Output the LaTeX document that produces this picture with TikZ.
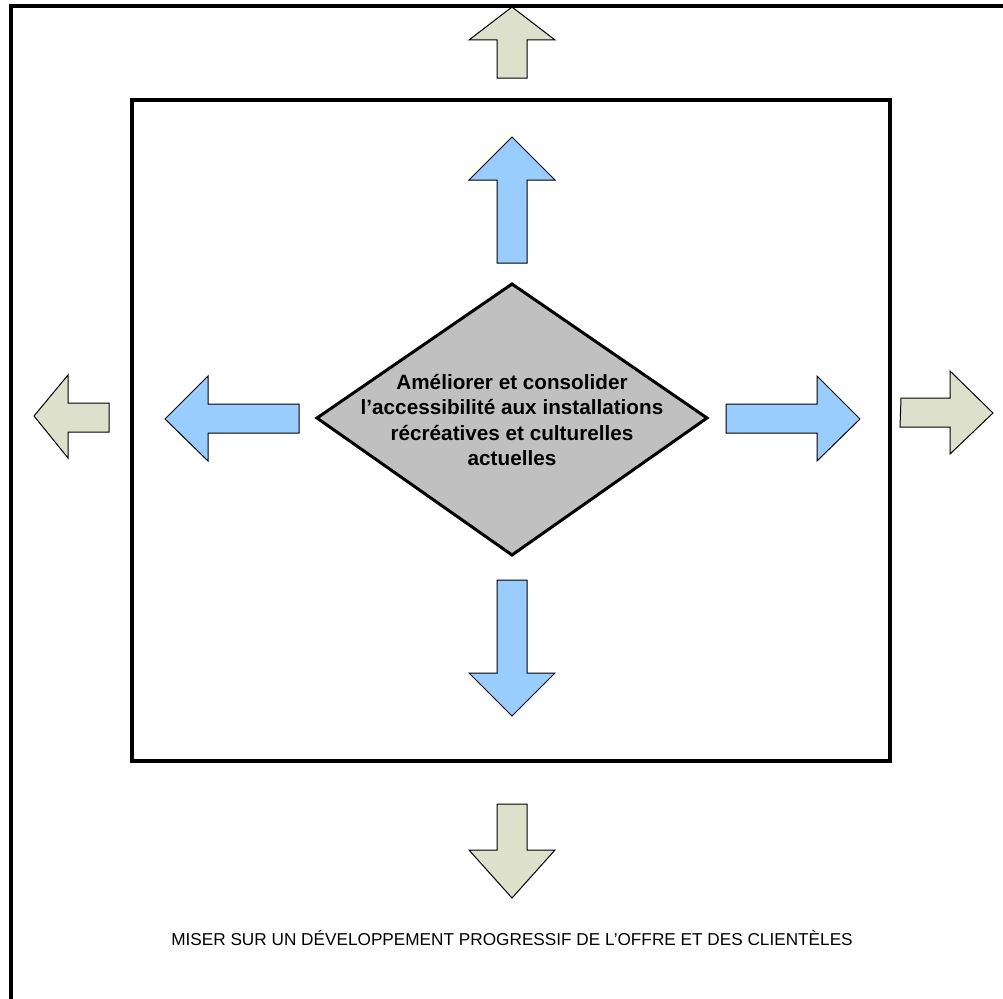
\documentclass[tikz,border=0pt]{standalone}
\usepackage{fontspec}
\setmainfont{Liberation Sans}
\definecolor{bluefill}{HTML}{99CCFF}
\definecolor{greenfill}{HTML}{DDE1CB}
\definecolor{diamondfill}{HTML}{C0C0C0}
\begin{document}
\begin{tikzpicture}[x=1pt,y=-1pt,
  frame/.style={draw=black,line width=4pt},
  bluearrow/.style={draw=black,fill=bluefill,line width=1pt,line join=miter},
  greenarrow/.style={draw=black,fill=greenfill,line width=1pt,line join=miter},
  centerbox/.style={draw=black,fill=diamondfill,line width=3pt,line join=miter},
  maintext/.style={align=center,font=\fontsize{20.7}{25.5}\selectfont\bfseries,inner sep=0pt},
  foottext/.style={font=\fontsize{17.2}{20}\selectfont,inner sep=0pt}]
\useasboundingbox (0,0) rectangle (1003,998);
\clip (0,0) rectangle (1003,998);
% outer frame (cut off at right and bottom)
\draw[frame] (11,6.5) rectangle (1015,1010);
% inner frame
\draw[frame] (132,100) rectangle (890,761);
% diamond
\draw[centerbox] (512,284) -- (707,418) -- (512,555) -- (317,418) -- cycle;
\node[maintext] (title) at (512,420) {Améliorer et consolider\\l’accessibilité aux installations\\récréatives et culturelles\\actuelles};
% blue arrows
\draw[bluearrow] (512,137) -- (555,180) -- (527,180) -- (527,263) -- (497,263) -- (497,180) -- (469,180) -- cycle;
\draw[bluearrow] (512,716) -- (555,673) -- (527,673) -- (527,580) -- (497,580) -- (497,673) -- (469,673) -- cycle;
\draw[bluearrow] (165,419) -- (208,376) -- (208,404) -- (299,404) -- (299,433) -- (208,433) -- (208,461) -- cycle;
\draw[bluearrow] (860,419) -- (817,376) -- (817,404) -- (726,404) -- (726,433) -- (817,433) -- (817,461) -- cycle;
% green arrows
\draw[greenarrow] (512,7) -- (555,40) -- (527,40) -- (527,78) -- (497,78) -- (497,40) -- (469,40) -- cycle;
\draw[greenarrow] (512,898) -- (555,850) -- (527,850) -- (527,804) -- (497,804) -- (497,850) -- (469,850) -- cycle;
\draw[greenarrow] (34,416) -- (68,375) -- (68,403) -- (109,403) -- (109,432) -- (68,432) -- (68,458) -- cycle;
\draw[greenarrow] (993,413) -- (950,371) -- (950,398) -- (901,398) -- (900,427) -- (950,427) -- (950,454) -- cycle;
% bottom caption
\node[foottext] (caption) at (512,938) {MISER SUR UN DÉVELOPPEMENT PROGRESSIF DE L’OFFRE ET DES CLIENTÈLES};
\end{tikzpicture}
\end{document}
